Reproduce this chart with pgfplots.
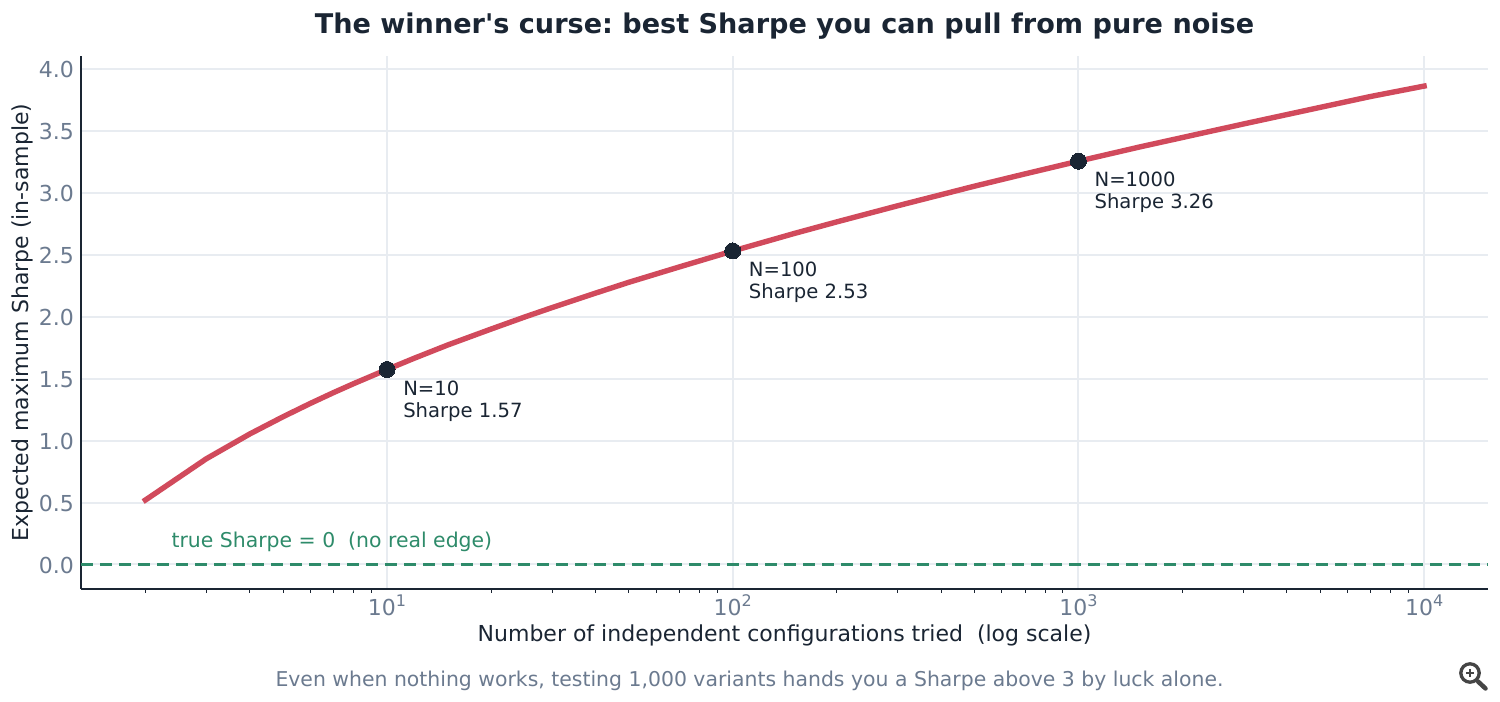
\documentclass[border=0pt]{standalone}
\usepackage{fontspec}
\setmainfont{DejaVu Sans}
\newfontfamily\plainfont{DejaVu Sans}
\usepackage{pgfplots}
\pgfplotsset{compat=1.18}
\definecolor{ink}{HTML}{1A2533}
\definecolor{slate}{HTML}{6B7A8F}
\definecolor{gridc}{HTML}{E8ECF1}
\definecolor{curve}{HTML}{D14A5C}
\definecolor{teal}{HTML}{2E8B6A}
\newcommand{\fs}[1]{\fontsize{#1bp}{22bp}\selectfont}
\newcommand{\dec}[1]{10\raisebox{0.42em}{\fs{16}#1}}
\frenchspacing
\begin{document}
\begin{tikzpicture}[x=1bp,y=1bp]
\path[use as bounding box] (0,0) rectangle (1500,702);
\begin{axis}[
  at={(81bp,113bp)},anchor=south west,
  scale only axis,width=1407bp,height=533bp,
  xmode=log,log basis x=10,
  xmin=1.3022,xmax=15311,ymin=-0.198,ymax=4.104,
  axis x line*=bottom,axis y line*=left,
  axis line style={-,draw=ink,line width=1.5bp},
  xtick={10,100,1000,10000},
  xticklabels={\dec{1},\dec{2},\dec{3},\dec{4}},
  minor xtick={2,3,4,5,6,7,8,9,20,30,40,50,60,70,80,90,200,300,400,500,600,700,800,900,2000,3000,4000,5000,6000,7000,8000,9000},
  ytick={0,0.5,1,1.5,2,2.5,3,3.5,4},
  yticklabels={0.0,0.5,1.0,1.5,2.0,2.5,3.0,3.5,4.0},
  tick align=outside,
  major tick length=0pt,minor tick length=4bp,
  minor tick style={draw=ink,line width=0.6bp},
  grid=major,
  grid style={draw=gridc,line width=2bp},
  tick label style={font=\fs{22},text=slate},
  xticklabel style={yshift=-2bp},
  yticklabel style={xshift=-3.5bp,yshift=-0.7bp},
  xlabel={Number of independent configurations tried\ \ (log scale)},
  ylabel={Expected maximum Sharpe (in-sample)},
  xlabel style={font=\fs{22},text=ink,at={(axis description cs:0.5,-0.0864)},anchor=center},
  ylabel style={font=\fs{22},text=ink,at={(axis description cs:-0.0419,0.5)},anchor=center},
  title={\plainfont\bfseries The winner's curse: best Sharpe you can pull from pure noise},
  title style={font=\fs{27.1},text=ink,at={(axis description cs:0.5,1.06)},anchor=center,yshift=-8bp},
  clip=false,
  axis on top=false,
]
\addplot[teal,line width=3bp,dash pattern=on 11.5bp off 7.5bp,forget plot] coordinates {(1.3022,0) (15311,0)};
\addplot[curve,line width=5.4bp,line join=round,line cap=rect,forget plot] coordinates {
(2,0.52)(3,0.853)(4,1.052)(5,1.192)(6,1.300)(7,1.387)(8,1.459)(10,1.574)(12,1.665)(15,1.772)(20,1.90)(25,1.997)(30,2.073)(40,2.189)(50,2.277)(70,2.401)(100,2.53)(150,2.670)(200,2.765)(300,2.895)(500,3.053)(700,3.152)(1000,3.255)(1500,3.369)(2000,3.446)(3000,3.555)(5000,3.689)(7000,3.777)(10000,3.861)};
\addplot[only marks,mark=*,mark size=8bp,mark options={fill=ink,draw=ink,line width=0pt},forget plot] coordinates {(10,1.574)(100,2.53)(1000,3.255)};
\node[anchor=north west,align=left,font=\fs{19.6},text=ink,inner sep=0pt,xshift=16bp,yshift=-11bp] at (axis cs:10,1.574) {N=10\\Sharpe 1.57};
\node[anchor=north west,align=left,font=\fs{19.6},text=ink,inner sep=0pt,xshift=16bp,yshift=-11bp] at (axis cs:100,2.53) {N=100\\Sharpe 2.53};
\node[anchor=north west,align=left,font=\fs{19.6},text=ink,inner sep=0pt,xshift=16bp,yshift=-11bp] at (axis cs:1000,3.255) {N=1000\\Sharpe 3.26};
\node[anchor=base west,font=\fs{20.4},text=teal,inner sep=0pt,xshift=0.5bp] at (axis cs:2.37,0.14) {true Sharpe = 0\ \ (no real edge)};
\end{axis}
\node[anchor=center,font=\fs{20.4},text=slate,inner sep=0pt] at (749.5,21.5) {Even when nothing works, testing 1,000 variants hands you a Sharpe above 3 by luck alone.};
\begin{scope}[shift={(1470,29)},draw=black!73]
\draw[line width=3.3bp] (0,0) circle (9.2bp);
\draw[line width=4.5bp,line cap=round] (8,-8.5) -- (15.5,-15.5);
\draw[line width=2.8bp] (-4,0) -- (4,0) (0,-4) -- (0,4);
\end{scope}
\end{tikzpicture}
\end{document}
